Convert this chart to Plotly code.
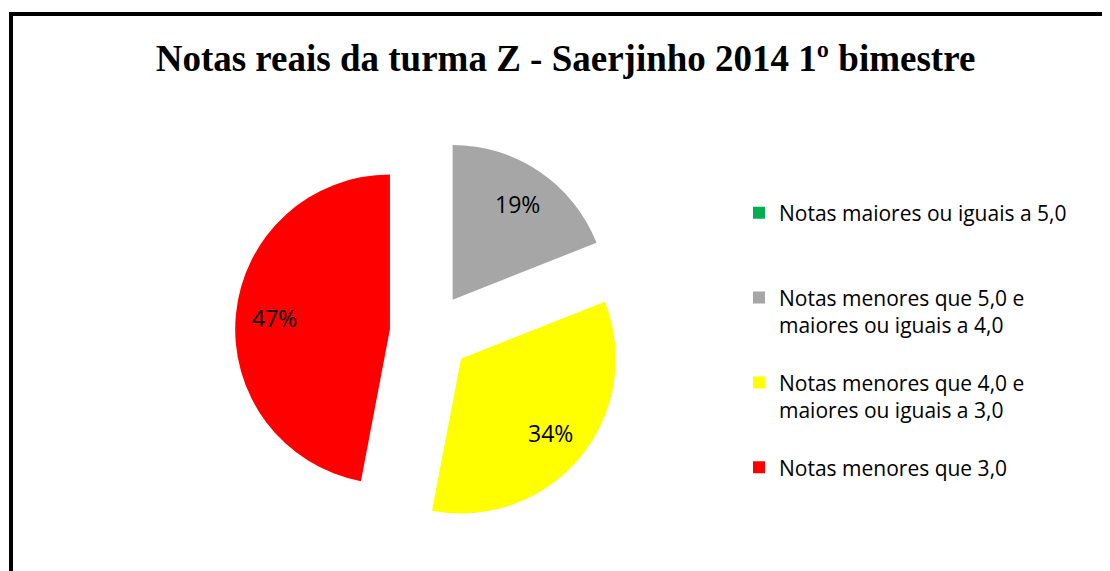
import math
import plotly.graph_objects as go

categories = [
    "Notas maiores ou iguais a 5,0<br> <br> ",
    "Notas menores que 5,0 e<br>maiores ou iguais a 4,0<br> ",
    "Notas menores que 4,0 e<br>maiores ou iguais a 3,0<br> ",
    "Notas menores que 3,0",
]
values = [0, 19, 34, 47]
slice_text = ["", "19%", "34%", "47%"]
colors = ["#00B050", "#A6A6A6", "#FFFF00", "#FF0000"]
pulls = [0, 0.26, 0.26, 0.26]

W, H = 1110, 571
cx, cy, box = 422, 325, 390   # pie centre / domain size in paper pixels
max_pull = max(pulls)
radius = box / 2 / (1 + max_pull)

fig = go.Figure(go.Pie(
    labels=categories,
    values=values,
    textinfo="none",
    marker=dict(colors=colors, line=dict(width=0)),
    pull=pulls,
    sort=False,
    direction="clockwise",
    rotation=0,
    domain=dict(x=[(cx - box / 2) / W, (cx + box / 2) / W],
                y=[1 - (cy + box / 2) / H, 1 - (cy - box / 2) / H]),
    hoverinfo="label+percent",
))

# data labels placed along each slice bisector (computed from the values)
annotations = []
total = sum(values)
cum = 0
for v, t, p in zip(values, slice_text, pulls):
    a0 = cum / total * 2 * math.pi
    cum += v
    if not t:
        continue
    mid = a0 + v / total * math.pi
    dist = radius * (p + 0.75)
    px = cx + dist * math.sin(mid)
    py = cy - dist * math.cos(mid)
    annotations.append(dict(
        x=px / W, y=1 - py / H, xref="paper", yref="paper",
        text=t, showarrow=False, xanchor="center", yanchor="middle",
        font=dict(family="Open Sans", size=23, color="black"),
    ))

fig.update_layout(
    width=W, height=H,
    margin=dict(l=0, r=0, t=0, b=0),
    paper_bgcolor="white",
    plot_bgcolor="white",
    title=dict(
        text="<b>Notas reais da turma Z - Saerjinho 2014 1º bimestre</b>",
        x=557.5 / W, xanchor="center", y=1 - 50 / H, yanchor="middle",
        font=dict(family="Liberation Serif", size=37, color="black"),
    ),
    legend=dict(
        x=731 / W, xanchor="left", y=1 - 184.5 / H, yanchor="top",
        valign="top",
        font=dict(family="Open Sans", size=21, color="black"),
        bgcolor="rgba(0,0,0,0)",
    ),
    annotations=annotations,
    shapes=[dict(
        type="rect", xref="paper", yref="paper",
        x0=3 / W, x1=1.03, y0=-0.05, y1=1 - 6 / H,
        line=dict(color="black", width=4),
        fillcolor="rgba(0,0,0,0)", layer="above",
    )],
)

fig.write_html("out.html")
